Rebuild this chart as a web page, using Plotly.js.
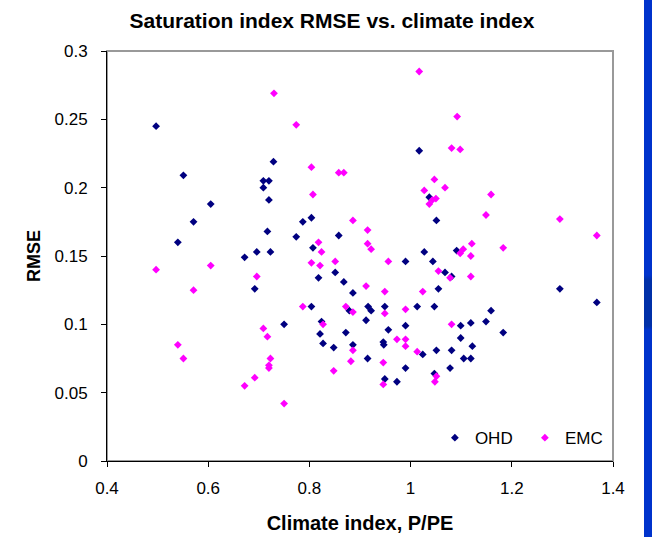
<!DOCTYPE html>
<html>
<head>
<meta charset="utf-8">
<script src="https://cdn.plot.ly/plotly-3.0.1.min.js"></script>
<style>
html,body{margin:0;padding:0;background:#fff;}
#wrap{position:relative;width:652px;height:537px;overflow:hidden;}
#chart{position:absolute;left:0;top:0;width:652px;height:537px;}
#bar{position:absolute;left:644px;top:0;width:8px;height:537px;
background:linear-gradient(to bottom,#0033CC 0px,#0033CC 275px,#0030A8 280px,#0030A8 326px,#0033CC 330px,#0033CC 537px);}
</style>
</head>
<body>
<div id="wrap"><div id="chart"></div><div id="bar"></div></div>
<script>
const ohdX = [0.497,0.729,0.551,0.709,0.720,0.709,0.720,0.605,0.571,0.540,0.717,0.696,0.723,0.672,0.692,
  1.017,1.037,1.051,0.804,0.787,0.858,0.774,0.807,1.027,0.990,1.044,0.818,0.851,0.868,1.068,1.081,0.886,1.055,
  0.804,0.879,0.916,0.922,0.949,1.013,1.047,0.750,0.824,0.912,0.956,0.990,0.821,0.872,0.827,0.848,0.886,0.946,0.947,
  1.024,1.051,0.915,0.990,1.047,0.949,0.973,1.078,1.081,1.091,1.295,1.368,1.159,1.149,1.119,1.099,1.183,1.099,1.122,1.105,1.119];
const ohdY = [0.245,0.219,0.209,0.205,0.205,0.200,0.191,0.188,0.175,0.160,0.168,0.153,0.153,0.149,0.126,
  0.227,0.193,0.176,0.178,0.175,0.165,0.164,0.156,0.153,0.146,0.146,0.134,0.138,0.131,0.138,0.135,0.123,0.126,
  0.113,0.110,0.113,0.110,0.113,0.113,0.113,0.100,0.102,0.103,0.096,0.099,0.093,0.094,0.086,0.083,0.085,0.087,0.085,
  0.078,0.081,0.075,0.068,0.064,0.060,0.058,0.068,0.081,0.154,0.126,0.116,0.110,0.102,0.101,0.099,0.094,0.090,0.084,0.075,0.075];

const emcX = [0.730,0.497,0.605,0.696,0.571,0.709,0.717,0.540,0.551,0.723,0.720,0.720,0.692,0.672,0.750,
  1.017,0.774,1.092,1.081,1.098,0.804,0.858,0.868,1.047,1.068,1.027,1.050,1.043,1.037,0.807,1.159,1.149,1.295,1.368,
  0.886,0.915,0.818,0.915,0.922,0.824,1.098,1.104,1.121,1.119,1.183,0.804,0.821,0.851,0.956,1.055,1.078,1.119,
  0.912,0.949,1.024,0.787,0.872,0.886,0.949,0.990,0.827,1.081,0.886,0.973,0.990,0.990,1.013,0.882,0.946,0.848,1.051,1.048,0.946];
const emcY = [0.269,0.140,0.143,0.135,0.125,0.097,0.091,0.085,0.075,0.075,0.070,0.068,0.061,0.055,0.042,
  0.285,0.246,0.252,0.229,0.228,0.215,0.211,0.211,0.206,0.200,0.198,0.192,0.191,0.188,0.195,0.195,0.180,0.177,0.165,
  0.176,0.169,0.160,0.159,0.155,0.153,0.152,0.155,0.159,0.150,0.156,0.145,0.143,0.146,0.146,0.139,0.134,0.135,
  0.128,0.124,0.124,0.113,0.113,0.109,0.108,0.111,0.100,0.100,0.081,0.089,0.089,0.084,0.080,0.073,0.072,0.066,0.062,0.058,0.056];

const xTicks = [0.4,0.6,0.8,1,1.2,1.4];
const yTicks = [0,0.05,0.1,0.15,0.2,0.25,0.3];

const FONT = 'Liberation Sans, Arial, sans-serif';

const traces = [
  {x: ohdX, y: ohdY, name: 'OHD', type: 'scatter', mode: 'markers',
   marker: {symbol: 'diamond', size: 6, color: '#000080'}},
  {x: emcX, y: emcY, name: 'EMC', type: 'scatter', mode: 'markers',
   marker: {symbol: 'diamond', size: 6, color: '#FF00FF'}}
];

const layout = {
  width: 652, height: 537,
  margin: {l: 107, r: 39, t: 51, b: 76, autoexpand: false},
  paper_bgcolor: '#fff', plot_bgcolor: '#fff',
  font: {family: FONT, color: '#000', size: 17},
  title: {text: 'Saturation index RMSE vs. climate index', font: {family: FONT, size: 21, weight: 'bold', color: '#000'},
          x: 332/652, xref: 'container', xanchor: 'center', y: 1 - 21/537, yref: 'container', yanchor: 'middle'},
  xaxis: {range: [0.4, 1.4], tickvals: xTicks, ticktext: xTicks.map(String), showgrid: false, zeroline: false,
          showline: true, linecolor: '#000', linewidth: 1, ticks: 'outside', ticklen: 5, tickcolor: '#000',
          tickfont: {family: FONT, size: 17}, ticklabelstandoff: 7, fixedrange: true, automargin: false,
          title: {text: 'Climate index, P/PE', font: {family: FONT, size: 20, weight: 'bold'}, standoff: 18}},
  yaxis: {range: [0, 0.3], tickvals: yTicks, ticktext: yTicks.map(String), showgrid: false, zeroline: false,
          showline: true, linecolor: '#000', linewidth: 1, ticks: 'outside', ticklen: 5, tickcolor: '#000',
          tickfont: {family: FONT, size: 17}, ticklabelstandoff: 10, fixedrange: true, automargin: false,
          title: {text: 'RMSE', font: {family: FONT, size: 18, weight: 'bold'}, standoff: 9}},
  shapes: [{type: 'rect', xref: 'paper', yref: 'paper', x0: 0, x1: 1, y0: 0, y1: 1,
            line: {color: '#999999', width: 2}, layer: 'below'}],
  showlegend: true,
  legend: {orientation: 'h', x: 0.648, xanchor: 'left', y: 0.012, yanchor: 'bottom',
           bgcolor: 'rgba(0,0,0,0)', font: {family: FONT, size: 17}, entrywidth: 45, entrywidthmode: 'pixels',
           itemwidth: 30, tracegroupgap: 0}
};

Plotly.newPlot('chart', traces, layout, {displayModeBar: false, staticPlot: true});
</script>
</body>
</html>
